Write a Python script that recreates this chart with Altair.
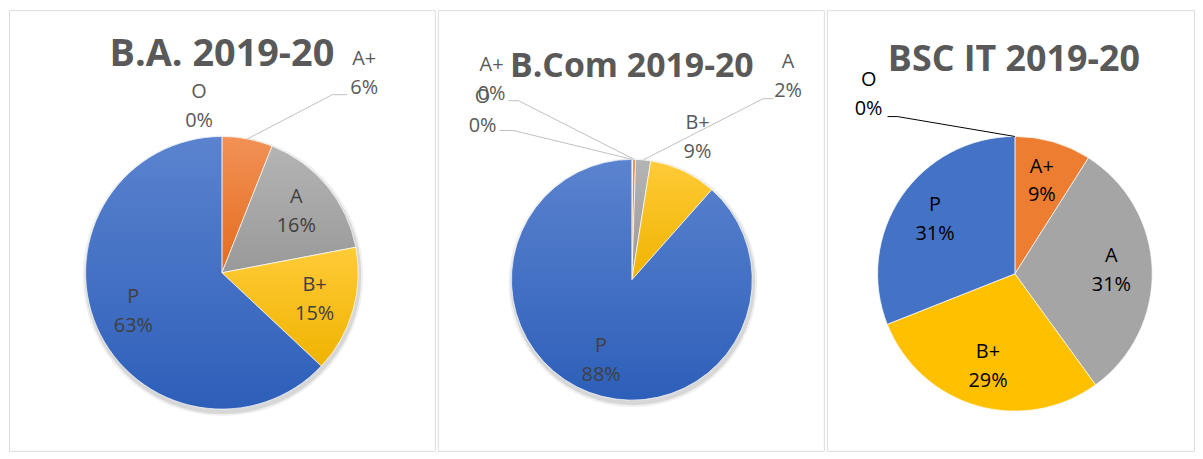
import math
import altair as alt
import pandas as pd

# ---------------- data ----------------
GRADES = ["O", "A+", "A", "B+", "P"]
BA_VALUES = [0, 6, 16, 15, 63]
BCOM_VALUES = [0.1, 0.4, 2, 9, 88]
BSCIT_VALUES = [0, 9, 31, 29, 31]
TITLES = ["B.A. 2019-20", "B.Com 2019-20", "BSC IT 2019-20"]

# ---------------- styles ----------------
FONT = "Open Sans"
LABEL_SIZE = 20
LINE_H = 29
TITLE_COLOR = "#595959"
FLAT = {"O": "#4472C4", "A+": "#ED7D31", "A": "#A5A5A5", "B+": "#FFC000", "P": "#4472C4"}
SHADED = {"O": ("#5b83cf", "#2d5fb9"), "A+": ("#f29157", "#e46c1c"),
          "A": ("#b4b4b4", "#999999"), "B+": ("#ffcb38", "#efb300"),
          "P": ("#5b83cf", "#2d5fb9")}


def gradient(c0, c1):
    return {"gradient": "linear", "x1": 0, "y1": 0, "x2": 0, "y2": 1,
            "stops": [{"offset": 0, "color": c0}, {"offset": 1, "color": c1}]}


def color_def(shaded):
    vals = {g: (gradient(*SHADED[g]) if shaded else FLAT[g]) for g in GRADES}
    conds = [{"test": f"datum.grade === '{g}'", "value": vals[g]} for g in GRADES[:-1]]
    return {"condition": conds, "value": vals["P"]}


def panel(title, values, layout):
    W, H = layout["size"]
    cx, cy, R = layout["center"][0], layout["center"][1], layout["radius"]
    total = float(sum(values))
    df = pd.DataFrame({"grade": GRADES, "value": values})
    df["t1"] = df["value"].cumsum()
    df["t0"] = df["t1"] - df["value"]
    df["tm"] = (df["t0"] + df["t1"]) / 2
    df["pct"] = (df["value"] / total * 100).round().astype(int).astype(str) + "%"
    df["label"] = df["grade"] + "\n" + df["pct"]

    tscale = alt.Scale(domain=[0, total], range=[0, 2 * math.pi])
    layers = []

    if layout["shadow"]:
        for extra, op in [(4, 0.06), (2, 0.10)]:
            layers.append(
                alt.Chart(df.head(1)).mark_arc(
                    outerRadius=R + extra, theta=0, theta2=2 * math.pi,
                    color="#000000", opacity=op
                ).encode(x=alt.value(cx + 1), y=alt.value(cy + 3))
            )

    arcs = alt.Chart(df).mark_arc(
        outerRadius=R, stroke="white", strokeWidth=0.7
    ).encode(
        theta=alt.Theta("t0:Q", scale=tscale),
        theta2="t1:Q",
        color=color_def(layout["shaded"]),
        x=alt.value(cx), y=alt.value(cy),
    )
    layers.append(arcs)

    inside = df[df["grade"].isin(layout["inside"])]
    layers.append(
        alt.Chart(inside).mark_text(
            radius=layout["label_r"], font=FONT, fontSize=LABEL_SIZE, lineBreak="\n",
            lineHeight=LINE_H, align="center", baseline="middle",
            dy=-LINE_H / 2, color=layout["in_color"]
        ).encode(
            theta=alt.Theta("tm:Q", scale=tscale, stack=False),
            text="label:N", x=alt.value(cx), y=alt.value(cy),
        )
    )

    # outside labels and leader lines
    out_rows, line_rows = [], []
    for g, spec in layout["outside"].items():
        row = df[df["grade"] == g].iloc[0]
        out_rows.append({"grade": g, "label": row["label"], "px": spec["at"][0], "py": spec["at"][1]})
        if spec.get("leader"):
            ang = 2 * math.pi * row["tm"] / total
            sx, sy = cx + R * math.sin(ang), cy - R * math.cos(ang)
            pts = spec["leader"] + [(sx, sy)]
            for k, (px, py) in enumerate(pts):
                line_rows.append({"grade": g, "k": k, "px": px, "py": py})

    if line_rows:
        layers.append(
            alt.Chart(pd.DataFrame(line_rows)).mark_line(
                color=layout["leader_color"], strokeWidth=1
            ).encode(
                x=alt.X("px:Q", scale=None, axis=None),
                y=alt.Y("py:Q", scale=None, axis=None),
                detail="grade:N", order="k:Q",
            )
        )
    if out_rows:
        layers.append(
            alt.Chart(pd.DataFrame(out_rows)).mark_text(
                font=FONT, fontSize=LABEL_SIZE, lineBreak="\n", lineHeight=LINE_H,
                align="center", baseline="middle", dy=-LINE_H / 2,
                color=layout["out_color"]
            ).encode(
                x=alt.X("px:Q", scale=None, axis=None),
                y=alt.Y("py:Q", scale=None, axis=None),
                text="label:N",
            )
        )

    layers.append(
        alt.Chart(pd.DataFrame({"t": [title]})).mark_text(
            font=FONT, fontSize=layout["title_size"], fontWeight="bold", color=TITLE_COLOR,
            align="center", baseline="middle"
        ).encode(text="t:N", x=alt.value(layout["title_at"][0]), y=alt.value(layout["title_at"][1]))
    )
    return alt.layer(*layers).properties(width=W, height=H)


LAYOUTS = [
    {"size": (428, 443), "center": (214, 264), "radius": 137, "label_r": 97,
     "title_at": (214, 45), "title_size": 38, "shaded": True, "shadow": True,
     "inside": ["A", "B+", "P"], "in_color": "#404040", "out_color": "#595959",
     "leader_color": "#bfbfbf",
     "outside": {"A+": {"at": (357, 64), "leader": [(340, 85), (325, 85)]},
                 "O": {"at": (191, 97)}}},
    {"size": (388, 443), "center": (195, 271), "radius": 121, "label_r": 87,
     "title_at": (195, 57), "title_size": 34, "shaded": True, "shadow": True,
     "inside": ["P"], "in_color": "#404040", "out_color": "#595959",
     "leader_color": "#bfbfbf",
     "outside": {"A+": {"at": (54, 70), "leader": [(71, 91), (81, 91)]},
                 "O": {"at": (45, 102), "leader": [(62, 121), (76, 121)]},
                 "A": {"at": (352, 67), "leader": [(337, 89), (327, 89)]},
                 "B+": {"at": (261, 128)}}},
    {"size": (369, 443), "center": (189, 265), "radius": 138, "label_r": 97,
     "title_at": (188, 50), "title_size": 36, "shaded": False, "shadow": False,
     "inside": ["A+", "A", "B+", "P"], "in_color": "#000000", "out_color": "#000000",
     "leader_color": "#000000",
     "outside": {"O": {"at": (42, 85), "leader": [(61, 107), (71, 107)]}}},
]

panels = [panel(t, v, l) for t, v, l in zip(TITLES, [BA_VALUES, BCOM_VALUES, BSCIT_VALUES], LAYOUTS)]

chart = alt.hconcat(*panels, spacing=1).properties(padding=0).configure_view(
    stroke="#d0d0d0", strokeWidth=1
).configure(background="white")

chart.save("out.html", embed_options={"renderer": "svg", "actions": False})
